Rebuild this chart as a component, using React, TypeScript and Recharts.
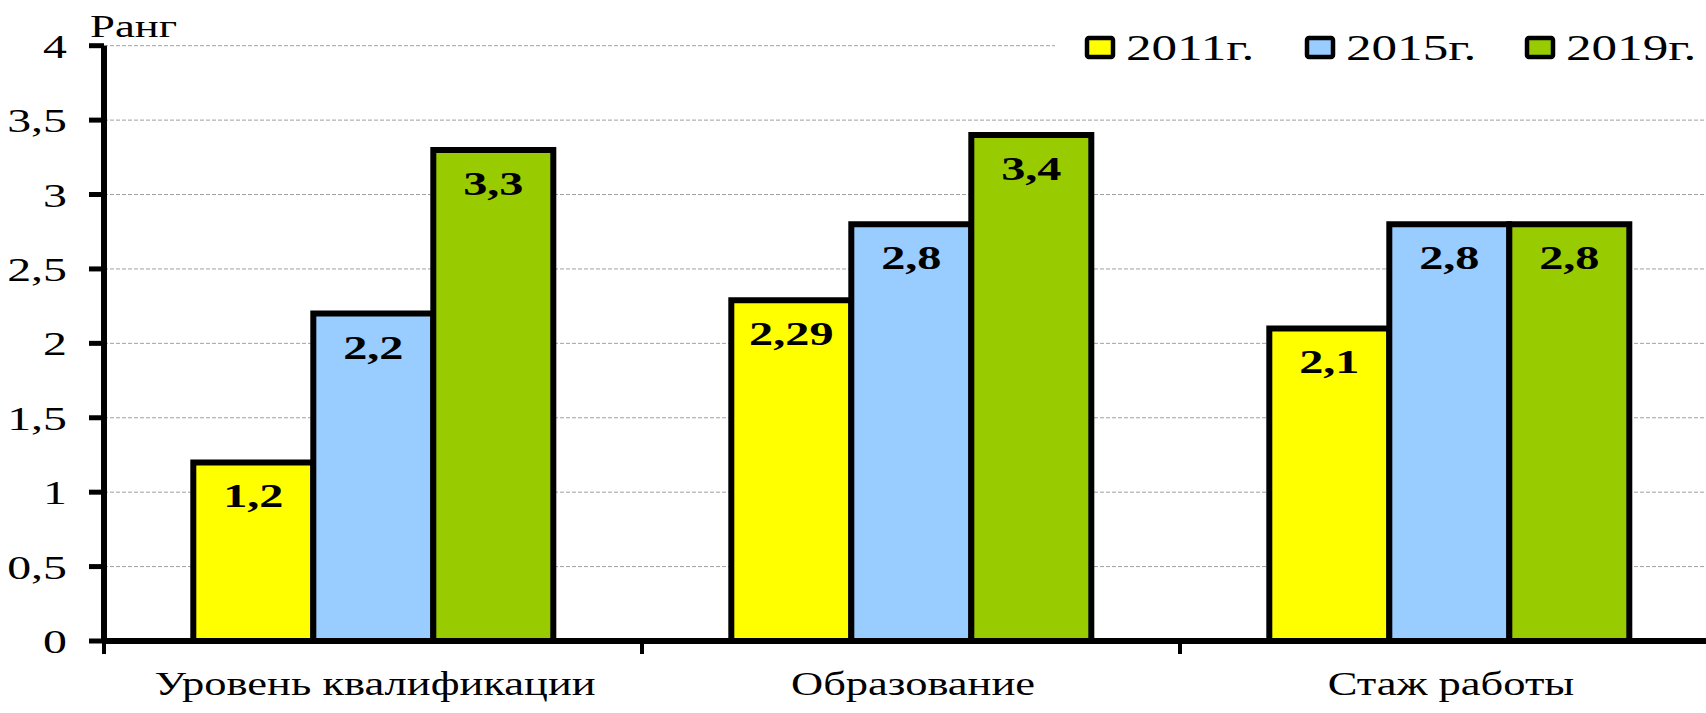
import React from "react";
import { Bar, BarChart, CartesianGrid, LabelList, XAxis, YAxis } from "recharts";

const categories = ["Уровень квалификации", "Образование", "Стаж работы"];
const values2011 = [1.2, 2.29, 2.1];
const values2015 = [2.2, 2.8, 2.8];
const values2019 = [3.3, 3.4, 2.8];
const seriesKeys = ["y2011", "y2015", "y2019"];
const seriesNames = ["2011г.", "2015г.", "2019г."];
const seriesColors = ["#FFFF00", "#99CCFF", "#99CC00"];
const yTicks = [0, 0.5, 1, 1.5, 2, 2.5, 3, 3.5, 4];

const data = categories.map((name, i) => ({
  name,
  y2011: values2011[i],
  y2015: values2015[i],
  y2019: values2019[i],
}));

const FONT = "Liberation Serif, Times New Roman, serif";
// the source picture is stretched sideways, so text gets a scaleX too
const CHART_W = 1720;
const CHART_H = 713;
const Y_W = 104;
const RIGHT = 2;
const PLOT_W = CHART_W - Y_W - RIGHT;
const BAND = PLOT_W / categories.length;

const fmt = (v: number) => String(v).replace(".", ",");

const txt = (size: number, bold = false) => ({
  fontFamily: FONT,
  fontSize: size,
  fontWeight: bold ? 700 : 400,
  fill: "#000",
});

const YTick = ({ x, y, payload }: any) => (
  <text transform={`translate(${x},${y + 12}) scale(1.45,1)`} textAnchor="end" style={txt(33)}>
    {fmt(payload.value)}
  </text>
);

const XTick = ({ x, y, payload }: any) => {
  const left = x - BAND / 2;
  return (
    <g>
      <line x1={left} x2={left} y1={y} y2={y + 13} stroke="#000" strokeWidth={4} />
      <text transform={`translate(${x + 2},${y + 54}) scale(1.31,1)`} textAnchor="middle" style={txt(34)}>
        {payload.value}
      </text>
    </g>
  );
};

const ValueLabel = ({ x, y, width, value }: any) => (
  <text transform={`translate(${x + width / 2},${y + 45}) scale(1.42,1)`} textAnchor="middle" style={txt(34, true)}>
    {fmt(value)}
  </text>
);

const RankLabel = ({ viewBox }: any) => (
  <text transform={`translate(${viewBox.x + 90},${viewBox.y - 9}) scale(1.4,1)`} textAnchor="start" style={txt(32)}>
    Ранг
  </text>
);

function LegendBox() {
  return (
    <svg width={651} height={50} style={{ position: "absolute", left: 1055, top: 22 }}>
      <rect x={0} y={0} width={651} height={50} fill="#fff" />
      {seriesNames.map((name, i) => (
        <g key={name}>
          <rect x={32 + i * 220} y={16} width={26} height={19} fill={seriesColors[i]} stroke="#000" strokeWidth={4.5} rx={2} />
          <text transform={`translate(${71 + i * 220},38) scale(1.42,1)`} style={txt(36)}>
            {name}
          </text>
        </g>
      ))}
    </svg>
  );
}

export default function App() {
  return (
    <div style={{ position: "absolute", left: 0, top: 0, width: 1706, height: 713, overflow: "hidden", background: "#fff" }}>
      <BarChart
        width={CHART_W}
        height={CHART_H}
        data={data}
        margin={{ top: 45.7, right: RIGHT, bottom: 0, left: 0 }}
        barCategoryGap="16.6%"
        barGap={0}
      >
        <CartesianGrid vertical={false} stroke="#a0a0a0" strokeDasharray="4 2" />
        <XAxis
          dataKey="name"
          height={72}
          axisLine={{ stroke: "#000", strokeWidth: 6 }}
          tickLine={false}
          tickSize={0}
          tickMargin={0}
          tick={<XTick />}
          interval={0}
        />
        <YAxis
          width={Y_W}
          domain={[0, 4]}
          ticks={yTicks}
          interval={0}
          axisLine={{ stroke: "#000", strokeWidth: 6 }}
          tickLine={{ stroke: "#000", strokeWidth: 5 }}
          tickSize={15}
          tickMargin={22}
          tick={<YTick />}
          label={<RankLabel />}
        />
        {seriesKeys.map((k, i) => (
          <Bar key={k} dataKey={k} name={seriesNames[i]} fill={seriesColors[i]} stroke="#000" strokeWidth={6} isAnimationActive={false}>
            <LabelList dataKey={k} content={<ValueLabel />} />
          </Bar>
        ))}
      </BarChart>
      <LegendBox />
    </div>
  );
}
